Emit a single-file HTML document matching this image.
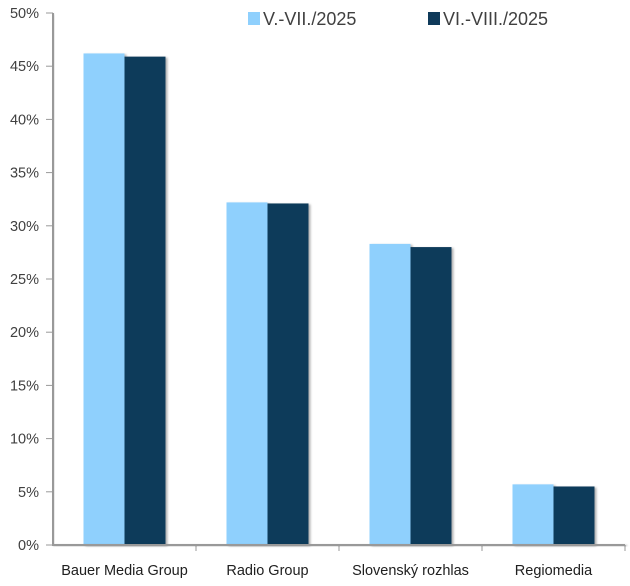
<!DOCTYPE html>
<html><head><meta charset="utf-8"><style>
body{margin:0;background:#fff;}
svg{display:block;font-family:"Liberation Sans",sans-serif;}
</style></head><body>
<svg id="chart" width="630" height="586" viewBox="0 0 630 586">
<defs><filter id="sh" x="-10%" y="-10%" width="130%" height="130%"><feDropShadow dx="2" dy="1" stdDeviation="1" flood-color="#000" flood-opacity="0.3"/></filter></defs>
<g id="grid"></g><g id="bars"></g><g id="axes"></g>
<g>
<rect x="248" y="12" width="12" height="13" fill="#8fd0fd"/>
<text x="263" y="25" font-size="18" fill="#404040">V.-VII./2025</text>
<rect x="428" y="12" width="12" height="13" fill="#0f3a5a"/>
<text x="443" y="25" font-size="18" fill="#404040">VI.-VIII./2025</text>
</g>
</svg>
<script>
const categories=["Bauer Media Group","Radio Group","Slovenský rozhlas","Regiomedia"];
const series1=[46.2,32.2,28.3,5.7];
const series2=[45.9,32.1,28.0,5.5];
const ticks=[0,5,10,15,20,25,30,35,40,45,50];
const NS="http://www.w3.org/2000/svg";
const x0=53,x1=625,y0=545,y1=13,ymax=50;
const y=v=>y0-(v/ymax)*(y0-y1);
const cw=(x1-x0)/categories.length;
const bars=document.getElementById('bars'),axes=document.getElementById('axes');
function mk(t,a,p){const e=document.createElementNS(NS,t);for(const k in a)e.setAttribute(k,a[k]);p.appendChild(e);return e;}
const bw=41;
categories.forEach((c,i)=>{
 const cx=x0+cw*i+cw/2;
 const r1=mk('rect',{x:cx-bw,y:y(series1[i]),width:bw,height:y0-y(series1[i]),fill:'#8fd0fd',filter:'url(#sh)'},bars);
 
 
 const r2=mk('rect',{x:cx,y:y(series2[i]),width:bw,height:y0-y(series2[i]),fill:'#0f3a5a',filter:'url(#sh)'},bars);
 
 
 const t=mk('text',{x:cx,y:575,'font-size':14.5,'text-anchor':'middle',fill:'#202020'},axes);
 t.textContent=c;
 
 
 const tk=mk('rect',{x:x0+cw*(i+1)-0.5,width:1,y:y0,height:6,fill:'#999'},axes);
 
 
});
const ya=mk('rect',{x:x0-1,y:y1,width:2,height:y0-y1,fill:'#999',filter:'url(#sh)'},axes);


const xa=mk('rect',{x:x0-1,y:y0-1,width:x1-x0+1,height:2,fill:'#999',filter:'url(#sh)'},axes);


ticks.forEach(v=>{
 const l=mk('rect',{x:x0-7,width:7,y:y(v)-0.5,height:1,fill:'#999'},axes);
 
 
 const t=mk('text',{x:39,y:y(v)+5,'font-size':14.5,'text-anchor':'end',fill:'#404040'},axes);
 t.textContent=v+'%';
 
 
});
</script>
</body></html>
